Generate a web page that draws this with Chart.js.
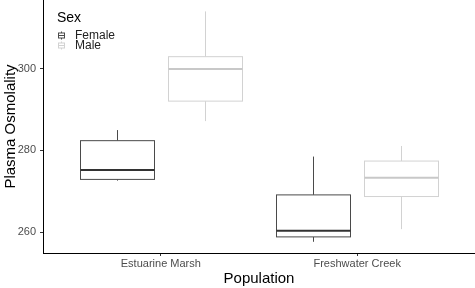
<!DOCTYPE html>
<html>
<head>
<meta charset="utf-8">
<script src="https://cdn.jsdelivr.net/npm/chart.js@4.4.0/dist/chart.umd.min.js"></script>
<style>
  html, body { margin: 0; padding: 0; background: #fff; }
  #wrap { width: 475px; height: 288px; }
</style>
</head>
<body>
<div id="wrap"><canvas id="myChart" width="475" height="288"></canvas></div>
<script>
// data
const populations = ['Estuarine Marsh', 'Freshwater Creek'];
const sexes = ['Female', 'Male'];
// [lower whisker, q1, median, q3, upper whisker] per population
const femaleStats = [
  [272.6, 272.9, 275.2, 282.4, 285.0],
  [257.6, 258.8, 260.3, 269.1, 278.5]
];
const maleStats = [
  [287.2, 292.1, 300.0, 303.0, 314.1],
  [260.7, 268.7, 273.3, 277.4, 281.1]
];
const yTicks = [260, 280, 300];

const sexColors = ['#4a4a4a', '#d2d2d2'];
const medianColors = ['#333333', '#c8c8c8'];
const dodge = 0.224;
const boxWidth = 0.375;

// boxplot plugin block
const boxPlots = {
  id: 'boxPlots',
  afterDatasetsDraw(chart) {
    const { ctx, scales: { x, y } } = chart;
    const all = [femaleStats, maleStats];
    ctx.save();
    all.forEach((stats, s) => {
      stats.forEach((st, i) => {
        const c = (i + 1) + (s === 0 ? -dodge : dodge);
        const xl = Math.round(x.getPixelForValue(c - boxWidth / 2)) + 0.5;
        const xr = Math.round(x.getPixelForValue(c + boxWidth / 2)) + 0.5;
        const xc = Math.round(x.getPixelForValue(c)) + 0.5;
        const [lo, q1, med, q3, hi] = st.map(v => y.getPixelForValue(v));
        ctx.strokeStyle = sexColors[s];
        ctx.lineWidth = 1;
        ctx.beginPath();
        ctx.moveTo(xc, hi); ctx.lineTo(xc, q3);
        ctx.moveTo(xc, q1); ctx.lineTo(xc, lo);
        ctx.stroke();
        ctx.fillStyle = '#fff';
        ctx.fillRect(xl, q3, xr - xl, q1 - q3);
        ctx.strokeRect(xl, q3, xr - xl, q1 - q3);
        ctx.strokeStyle = medianColors[s];
        ctx.lineWidth = 2;
        ctx.beginPath();
        ctx.moveTo(xl, med); ctx.lineTo(xr, med);
        ctx.stroke();
      });
    });

    // legend
    ctx.fillStyle = '#000';
    ctx.font = '14px "Liberation Sans", Arial, sans-serif';
    ctx.textAlign = 'left';
    ctx.textBaseline = 'alphabetic';
    ctx.fillText('Sex', 57, 22);
    sexes.forEach((name, s) => {
      const cy = 35.5 + s * 10;
      ctx.strokeStyle = sexColors[s];
      ctx.lineWidth = 1;
      ctx.beginPath();
      ctx.moveTo(61.5, cy - 4); ctx.lineTo(61.5, cy + 4);
      ctx.stroke();
      ctx.fillStyle = '#fff';
      ctx.fillRect(58.5, cy - 2.5, 6, 5);
      ctx.strokeRect(58.5, cy - 2.5, 6, 5);
      ctx.beginPath();
      ctx.moveTo(58.5, cy); ctx.lineTo(64.5, cy);
      ctx.stroke();
      ctx.fillStyle = '#222';
      ctx.font = '12px "Liberation Sans", Arial, sans-serif';
      ctx.textBaseline = 'middle';
      ctx.fillText(name, 75, cy);
    });
    ctx.restore();
  }
};

// config
const config = {
  type: 'scatter',
  data: {
    datasets: sexes.map((name, s) => ({
      label: name,
      data: [],
      borderColor: sexColors[s]
    }))
  },
  options: {
    responsive: false,
    animation: false,
    layout: { padding: 0 },
    plugins: {
      legend: { display: false },
      tooltip: { enabled: false }
    },
    scales: {
      x: {
        type: 'linear',
        min: 0.4,
        max: 2.6,
        afterBuildTicks: (scale) => { scale.ticks = [{ value: 1 }, { value: 2 }]; },
        afterFit: (scale) => {
          scale.height = 35;
          scale.paddingLeft = 0;
          scale.paddingRight = 0;
        },
        ticks: {
          callback: (v) => populations[v - 1],
          color: '#4d4d4d',
          font: { size: 11, family: '"Liberation Sans", Arial, sans-serif' },
          padding: 1,
          maxRotation: 0
        },
        grid: { drawOnChartArea: false, drawTicks: true, tickLength: 3, color: '#333' },
        border: { display: true, color: '#000', width: 1 },
        title: {
          display: true,
          text: 'Population',
          color: '#000',
          font: { size: 15, family: '"Liberation Sans", Arial, sans-serif' },
          padding: { top: 0, bottom: 0 }
        }
      },
      y: {
        min: 254.85,
        max: 316.9,
        afterBuildTicks: (scale) => { scale.ticks = yTicks.map(v => ({ value: v })); },
        afterFit: (scale) => {
          scale.width = 43;
          scale.paddingTop = 0;
          scale.paddingBottom = 0;
        },
        ticks: {
          color: '#4d4d4d',
          font: { size: 11, family: '"Liberation Sans", Arial, sans-serif' },
          padding: 4
        },
        grid: { drawOnChartArea: false, drawTicks: true, tickLength: 3, color: '#333' },
        border: { display: true, color: '#000', width: 1 },
        title: {
          display: true,
          text: 'Plasma Osmolality',
          color: '#000',
          font: { size: 15, family: '"Liberation Sans", Arial, sans-serif' },
          padding: { top: 2, bottom: 0 }
        }
      }
    }
  },
  plugins: [boxPlots]
};

// render init block
const myChart = new Chart(document.getElementById('myChart'), config);
</script>
</body>
</html>
